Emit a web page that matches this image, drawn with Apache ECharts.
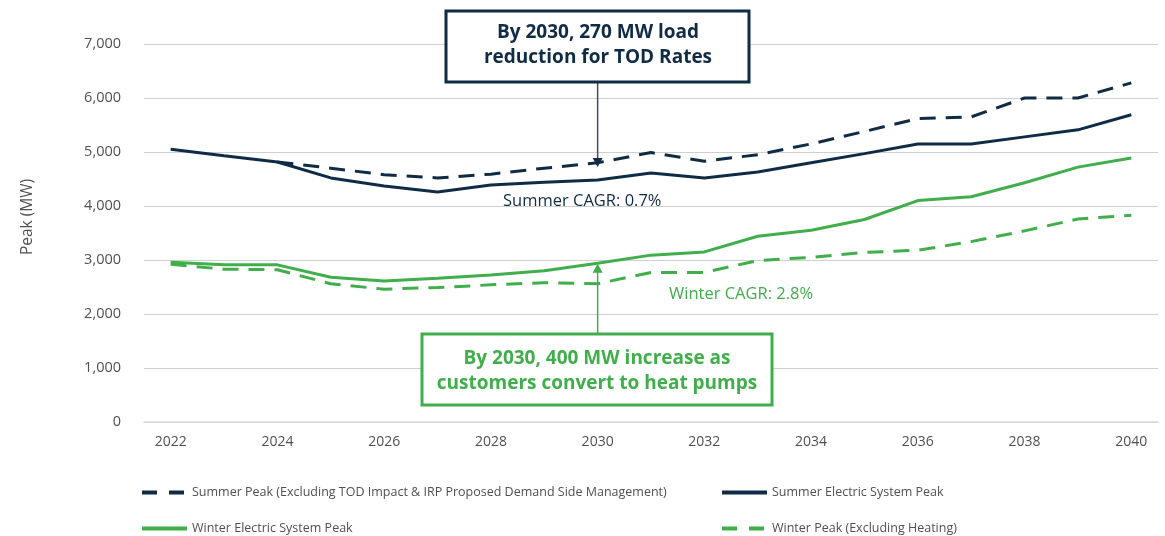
<!DOCTYPE html>
<html>
<head>
<meta charset="utf-8">
<script src="https://cdn.jsdelivr.net/npm/echarts@6/dist/echarts.min.js"></script>
<style>html,body{margin:0;padding:0;background:#fff;}#c{width:1165px;height:536px;}</style>
</head>
<body>
<div id="c"></div>
<script>
const years = ['2022','2023','2024','2025','2026','2027','2028','2029','2030','2031','2032','2033','2034','2035','2036','2037','2038','2039','2040'];
const summerExclTOD = [null, null, 4815, 4700, 4580, 4520, 4590, 4700, 4800, 4990, 4830, 4950, 5150, 5380, 5620, 5650, 6000, 6000, 6280];
const summerPeak = [5050, 4930, 4815, 4520, 4370, 4260, 4390, 4440, 4480, 4610, 4520, 4630, 4800, 4970, 5150, 5150, 5280, 5410, 5690];
const winterPeak = [2960, 2910, 2910, 2680, 2610, 2660, 2720, 2800, 2940, 3090, 3150, 3440, 3550, 3750, 4100, 4170, 4430, 4720, 4890];
const winterExclHeating = [2920, 2830, 2820, 2560, 2460, 2490, 2540, 2580, 2560, 2770, 2770, 2990, 3050, 3140, 3180, 3340, 3540, 3760, 3830];
const seriesNames = ['Summer Peak (Excluding TOD Impact & IRP Proposed Demand Side Management)', 'Summer Electric System Peak', 'Winter Electric System Peak', 'Winter Peak (Excluding Heating)'];
const yTicks = {min: 0, max: 7000, interval: 1000};

const NAVY = '#0f2b46';
const GREEN = '#3fae4b';
const FONT = '"Open Sans", Lato, sans-serif';
const GRAY = '#505050';

const chart = echarts.init(document.getElementById('c'));
const legendBase = {itemWidth: 45, itemHeight: 10, padding: 0, textStyle: {fontFamily: FONT, fontSize: 12.5, color: GRAY}, selectedMode: false, itemStyle: {opacity: 0, borderWidth: 0}};
chart.setOption({
  animation: false,
  grid: {left: 144, right: 7, top: 44, bottom: 114},
  xAxis: {
    type: 'category', data: years, boundaryGap: true,
    axisLine: {lineStyle: {color: '#dcdcdc', width: 1.5}},
    axisTick: {show: false},
    axisLabel: {interval: 1, fontFamily: FONT, fontSize: 14, color: GRAY, margin: 13}
  },
  yAxis: {
    type: 'value', min: yTicks.min, max: yTicks.max, interval: yTicks.interval,
    axisLabel: {fontFamily: FONT, fontSize: 14.5, color: GRAY, margin: 23,
      formatter: v => v.toLocaleString('en-US')},
    splitLine: {lineStyle: {color: '#cfcfcf', width: 1.2}}
  },
  legend: [
    Object.assign({data: [seriesNames[0]], left: 140, top: 486, lineStyle: {type: [15, 12], width: 4}}, legendBase),
    Object.assign({data: [seriesNames[1]], left: 720, top: 486, lineStyle: {width: 4}}, legendBase),
    Object.assign({data: [seriesNames[2]], left: 140, top: 522, lineStyle: {width: 4}}, legendBase),
    Object.assign({data: [seriesNames[3]], left: 720, top: 522, lineStyle: {type: [15, 12], width: 4}}, legendBase)
  ],
  series: [
    {name: seriesNames[0], type: 'line', data: summerExclTOD, symbol: 'none', lineStyle: {color: NAVY, width: 3, type: [16, 10]}, itemStyle: {color: NAVY}, z: 3},
    {name: seriesNames[1], type: 'line', data: summerPeak, symbol: 'none', lineStyle: {color: NAVY, width: 3}, itemStyle: {color: NAVY}, z: 4},
    {name: seriesNames[2], type: 'line', data: winterPeak, symbol: 'none', lineStyle: {color: GREEN, width: 3}, itemStyle: {color: GREEN}, z: 4},
    {name: seriesNames[3], type: 'line', data: winterExclHeating, symbol: 'none', lineStyle: {color: GREEN, width: 3, type: [16, 10]}, itemStyle: {color: GREEN}, z: 3}
  ]
});

// annotations anchored to 2030
const ax = chart.convertToPixel({gridIndex: 0}, ['2030', 0])[0];
const yTopArrowEnd = chart.convertToPixel({gridIndex: 0}, ['2030', 4720])[1];
const yBotArrowEnd = chart.convertToPixel({gridIndex: 0}, ['2030', 2930])[1];
chart.setOption({
  graphic: [
    {type: 'text', rotation: Math.PI / 2, x: 28, y: 217, style: {x: 0, y: 0, text: 'Peak (MW)', fill: GRAY, font: '15.5px ' + FONT, textAlign: 'center', textVerticalAlign: 'middle'}},
    {type: 'rect', shape: {x: 446, y: 11, width: 303, height: 71}, style: {fill: '#fff', stroke: NAVY, lineWidth: 3}, z: 10},
    {type: 'text', style: {x: 598, y: 45, text: 'By 2030, 270 MW load\nreduction for TOD Rates', fill: NAVY, font: 'bold 19px ' + FONT, textAlign: 'center', textVerticalAlign: 'middle', lineHeight: 25}, z: 11},
    {type: 'line', shape: {x1: ax, y1: 82, x2: ax, y2: yTopArrowEnd - 6}, style: {stroke: '#3c5068', lineWidth: 1.5}, z: 9},
    {type: 'polygon', shape: {points: [[ax - 5, yTopArrowEnd - 9], [ax + 5, yTopArrowEnd - 9], [ax, yTopArrowEnd]]}, style: {fill: NAVY}, z: 9},
    {type: 'rect', shape: {x: 422, y: 334, width: 350, height: 71}, style: {fill: '#fff', stroke: GREEN, lineWidth: 3}, z: 10},
    {type: 'text', style: {x: 597, y: 371, text: 'By 2030, 400 MW increase as\ncustomers convert to heat pumps', fill: GREEN, font: 'bold 19px ' + FONT, textAlign: 'center', textVerticalAlign: 'middle', lineHeight: 25}, z: 11},
    {type: 'line', shape: {x1: ax, y1: 334, x2: ax, y2: yBotArrowEnd + 6}, style: {stroke: GREEN, lineWidth: 1.5}, z: 9},
    {type: 'polygon', shape: {points: [[ax - 5, yBotArrowEnd + 9], [ax + 5, yBotArrowEnd + 9], [ax, yBotArrowEnd]]}, style: {fill: GREEN}, z: 9},
    {type: 'text', style: {x: 503, y: 201, text: 'Summer CAGR: 0.7%', fill: NAVY, font: '16.5px ' + FONT, textVerticalAlign: 'middle'}, z: 11},
    {type: 'text', style: {x: 669, y: 294, text: 'Winter CAGR: 2.8%', fill: GREEN, font: '16.5px ' + FONT, textVerticalAlign: 'middle'}, z: 11}
  ]
});
</script>
</body>
</html>
